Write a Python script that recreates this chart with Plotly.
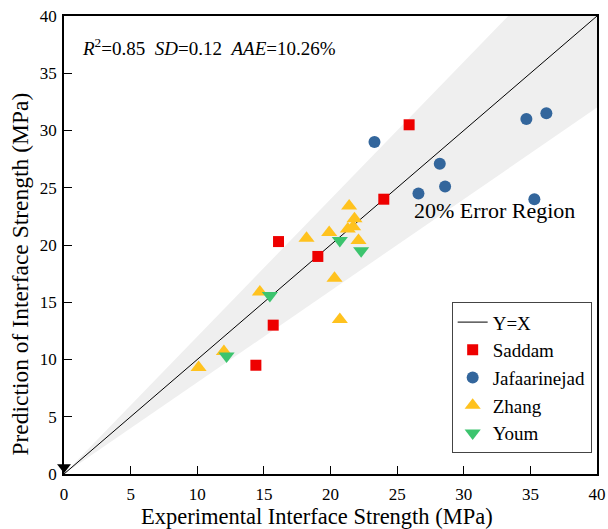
import plotly.graph_objects as go

# Data
saddam_x = [25.9, 24.0, 16.1, 19.05, 15.7, 14.4]
saddam_y = [30.5, 24.0, 20.3, 19.0, 13.0, 9.5]

jafaar_x = [23.3, 34.7, 36.2, 28.2, 26.6, 28.6, 35.3]
jafaar_y = [29.0, 31.0, 31.5, 27.1, 24.5, 25.1, 24.0]

zhang_x = [10.1, 12.0, 14.7, 18.2, 19.9, 20.3, 20.7, 21.3, 21.7, 21.4, 21.8, 22.1]
zhang_y = [9.3, 10.7, 15.9, 20.6, 21.1, 17.1, 13.5, 21.4, 21.6, 23.4, 22.3, 20.4]

youm_x = [20.7, 22.3, 15.45, 12.2]
youm_y = [20.4, 19.5, 15.6, 10.3]

origin_x = [0]
origin_y = [0.6]

axis_range = [0, 40]
band_x = [0, 40, 40, 0]
band_y = [0, 32, 48, 0]   # 0.8x lower and 1.2x upper bound (20% error)
ticks = [0, 5, 10, 15, 20, 25, 30, 35, 40]

x_title = "Experimental Interface Strength (MPa)"
y_title = "Prediction of Interface Strength (MPa)"

FONT = "Times New Roman, Liberation Serif, serif"

fig = go.Figure()

fig.add_trace(go.Scatter(x=band_x, y=band_y, fill="toself", fillcolor="#efefef",
                         line=dict(width=0), mode="lines", showlegend=False, hoverinfo="skip"))
fig.add_trace(go.Scatter(x=axis_range, y=axis_range, mode="lines", name="Y=X",
                         line=dict(color="black", width=1)))
fig.add_trace(go.Scatter(x=saddam_x, y=saddam_y, mode="markers", name="Saddam",
                         marker=dict(symbol="square", color="#ee0000", size=11)))
fig.add_trace(go.Scatter(x=jafaar_x, y=jafaar_y, mode="markers", name="Jafaarinejad",
                         marker=dict(symbol="circle", color="#33669c", size=12)))
fig.add_trace(go.Scatter(x=zhang_x, y=zhang_y, mode="markers", name="Zhang",
                         marker=dict(symbol="triangle-up", color="#ffc21e", size=14)))
fig.add_trace(go.Scatter(x=youm_x, y=youm_y, mode="markers", name="Youm",
                         marker=dict(symbol="triangle-down", color="#3cc46e", size=14)))
fig.add_trace(go.Scatter(x=origin_x, y=origin_y, mode="markers", showlegend=False,
                         marker=dict(symbol="triangle-down", color="black", size=12),
                         cliponaxis=False))

axis_common = dict(range=axis_range, tickvals=ticks, ticks="inside", ticklen=8, tickwidth=1,
                   tickcolor="black", showline=True, linecolor="black", linewidth=1.5,
                   mirror=True, showgrid=False, zeroline=False, automargin=False,
                   tickfont=dict(family=FONT, size=17, color="black"))

fig.update_xaxes(**axis_common, ticklabelstandoff=4)
fig.update_yaxes(**axis_common, ticklabelstandoff=2)

fig.add_annotation(x=0.4756, y=-0.092, xref="paper", yref="paper", xanchor="center", yanchor="middle",
                   text=x_title, showarrow=False, font=dict(family=FONT, size=22.5, color="black"))
fig.add_annotation(x=-0.083, y=0.437, xref="paper", yref="paper", xanchor="center", yanchor="middle",
                   text=y_title, textangle=-90, showarrow=False,
                   font=dict(family=FONT, size=23.5, color="black"))

fig.add_annotation(x=0.03, y=0.932, xref="paper", yref="paper", xanchor="left", yanchor="middle",
                   text="<i>R</i><sup>2</sup>=0.85\u00a0\u00a0<i>SD</i>=0.12\u00a0\u00a0<i>AAE</i>=10.26%",
                   showarrow=False, font=dict(family=FONT, size=19, color="black"))
fig.add_annotation(x=0.653, y=0.576, xref="paper", yref="paper", xanchor="left", yanchor="middle",
                   text="20% Error Region", showarrow=False,
                   font=dict(family=FONT, size=22, color="black"))

fig.update_layout(
    width=608, height=529,
    margin=dict(l=64, r=11, t=16, b=55, autoexpand=False),
    plot_bgcolor="white", paper_bgcolor="white",
    font=dict(family=FONT, color="black"),
    legend=dict(x=0.99, y=0.375, xanchor="right", yanchor="top",
                bordercolor="#444", borderwidth=1, bgcolor="white",
                font=dict(family=FONT, size=19, color="black"),
                itemsizing="trace", tracegroupgap=0),
)

fig.write_html("out.html")
